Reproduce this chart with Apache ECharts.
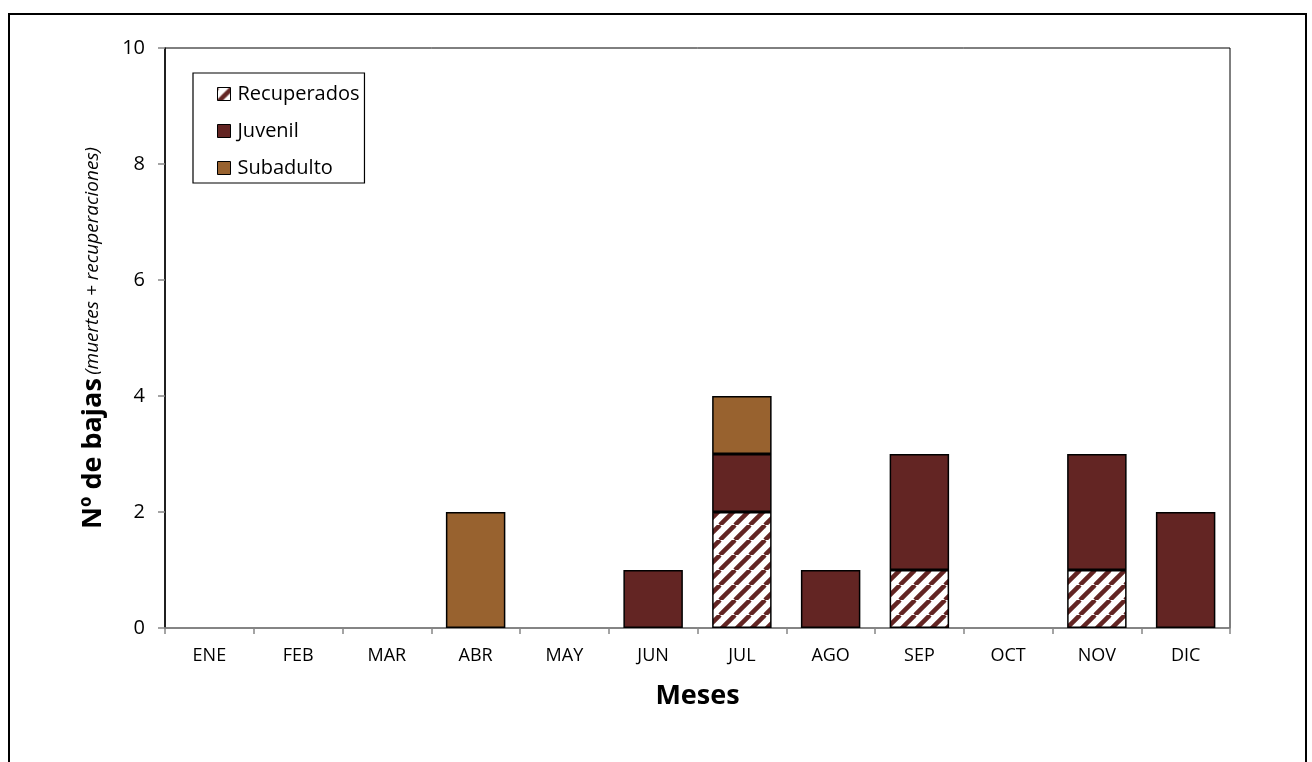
<!DOCTYPE html>
<html><head><meta charset="utf-8">
<script src="https://cdn.jsdelivr.net/npm/echarts@6/dist/echarts.min.js"></script>
<style>html,body{margin:0;padding:0;background:#fff}#c{width:1312px;height:762px}</style>
</head><body><div id="c"></div>
<script>
const months = ['ENE','FEB','MAR','ABR','MAY','JUN','JUL','AGO','SEP','OCT','NOV','DIC'];
const recuperados = [0,0,0,0,0,0,2,0,1,0,1,0];
const juvenil     = [0,0,0,0,0,1,1,1,2,0,2,2];
const subadulto   = [0,0,0,2,0,0,1,0,0,0,0,0];
const yTicks = [0,2,4,6,8,10];

const FONT = '"Open Sans", sans-serif';
const DARK = '#632523';
const BROWN = '#98622F';

function hatch(){
  const s = 15, cv = document.createElement('canvas');
  cv.width = s; cv.height = s;
  const g = cv.getContext('2d');
  g.fillStyle = '#fff'; g.fillRect(0,0,s,s);
  g.strokeStyle = DARK; g.lineWidth = 4.5;
  for (let k=-1;k<=1;k++){ g.beginPath(); g.moveTo(k*s, s); g.lineTo(k*s+s, 0); g.stroke(); }
  return cv;
}
const nz = a => a.map(v => v === 0 ? null : v);

const chart = echarts.init(document.getElementById('c'));
const itemBase = {borderColor:'#000', borderWidth:1.5};
chart.setOption({
  animation:false,
  textStyle:{fontFamily:FONT},
  grid:{left:165, right:82, top:48, bottom:134, show:true, borderColor:'#000', borderWidth:1, backgroundColor:'transparent'},
  legend:{
    orient:'vertical', left:193, top:73,
    padding:[8,5,2,24], borderColor:'#000', borderWidth:1.2,
    icon:'rect', itemWidth:13, itemHeight:13, itemGap:11,
    itemStyle:{borderColor:'#000', borderWidth:1},
    textStyle:{fontSize:20, color:'#000', fontFamily:FONT, padding:[0,0,0,2], lineHeight:26},
    data:['Recuperados','Juvenil','Subadulto']
  },
  xAxis:{
    type:'category', data:months,
    axisLine:{lineStyle:{color:'#868686', width:1.5}},
    axisTick:{show:true, length:6, lineStyle:{color:'#868686', width:1.5}},
    axisLabel:{fontSize:18, color:'#000', margin:19, fontFamily:FONT},
    name:'Meses', nameLocation:'middle', nameGap:55,
    nameTextStyle:{fontSize:27, fontWeight:'bold', color:'#000', fontFamily:FONT}
  },
  yAxis:{
    type:'value', min:0, max:10, interval:2,
    axisLine:{show:true, lineStyle:{color:'#000', width:1.5}},
    axisTick:{show:true, length:7, lineStyle:{color:'#868686', width:1.5}},
    splitLine:{show:false},
    axisLabel:{fontSize:20, color:'#000', margin:20, fontFamily:FONT,
      formatter: v => yTicks.includes(v) ? String(v) : ''}
  },
  series:[
    {name:'Recuperados', type:'bar', stack:'t', data:nz(recuperados), barCategoryGap:'33%',
     itemStyle:Object.assign({color:{image:hatch(), repeat:'repeat'}}, itemBase)},
    {name:'Juvenil', type:'bar', stack:'t', data:nz(juvenil),
     itemStyle:Object.assign({color:DARK}, itemBase)},
    {name:'Subadulto', type:'bar', stack:'t', data:nz(subadulto),
     itemStyle:Object.assign({color:BROWN}, itemBase)}
  ],
  graphic:[
    {type:'rect', shape:{x:9, y:14, width:1297, height:800}, style:{fill:'none', stroke:'#000', lineWidth:2}, silent:true, z:-10},
    {type:'text', x:93, y:338, rotation:Math.PI/2, silent:true,
     style:{text:'{b|Nº de bajas} {i|(muertes + recuperaciones)}', align:'center', verticalAlign:'middle',
       rich:{b:{fontSize:27, fontWeight:'bold', fontFamily:FONT, fill:'#000'},
             i:{fontSize:19, fontStyle:'italic', fontFamily:FONT, fill:'#000'}}}}
  ]
});
</script></body></html>
